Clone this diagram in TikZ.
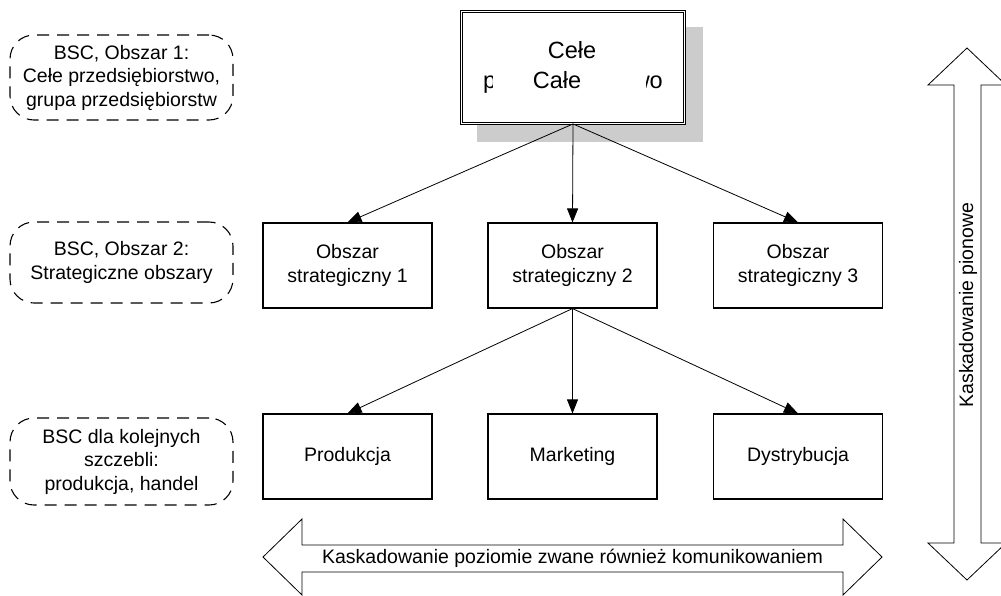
\documentclass[tikz,border=0pt]{standalone}
\usepackage{fontspec}
\setmainfont{Liberation Sans}
\usetikzlibrary{arrows.meta}
\begin{document}
\begin{tikzpicture}[x=1pt,y=-1pt,
  txt/.style={font=\fontsize{19.5}{23.5}\selectfont},
  bigtxt/.style={font=\fontsize{23.5}{28}\selectfont, inner sep=0pt},
  box/.style={txt, draw, line width=1.1pt, fill=white, minimum width=169pt, minimum height=85pt, align=center, inner sep=0pt},
  note/.style={txt, draw, line width=1.1pt, dash pattern=on 12pt off 8pt, rounded corners=24pt, minimum width=223pt, align=center, inner sep=0pt},
  conn/.style={-{Triangle[length=14pt,width=11pt]}, line width=0.8pt},
  bigarrow/.style={draw, line width=0.8pt, fill=white}
]
\useasboundingbox (0,0) rectangle (1001,595);
\clip (0,0) rectangle (1001,595);

% shadow and top box
\fill[black!20] (477,27) rectangle (703,142);
\node[draw, double, double distance=1.6pt, line width=0.9pt, fill=white,
      minimum width=223pt, minimum height=112pt, inner sep=0pt] (top) at (573,67.5) {};
\node[bigtxt, anchor=base] (t1) at (572,58) {Cełe};
\begin{scope}
  \clip (470,60) rectangle (492,105);
  \node[bigtxt, anchor=base west] (t2) at (483,88) {p};
\end{scope}
\begin{scope}
  \clip (646,60) rectangle (675,105);
  \node[bigtxt, anchor=base east] (t4) at (663,88) {wo};
\end{scope}
\node[bigtxt, anchor=base] (t3) at (557,88) {Całe};

% middle row
\node[box] (s1) at (347.5,265.5) {Obszar\\strategiczny 1};
\node[box] (s2) at (572.5,265.5) {Obszar\\strategiczny 2};
\node[box] (s3) at (798,265.5) {Obszar\\strategiczny 3};

% bottom row
\node[box] (p1) at (347.5,456.5) {Produkcja};
\node[box] (p2) at (572.5,456.5) {Marketing};
\node[box] (p3) at (798,456.5) {Dystrybucja};

% connectors
\draw[conn] (top.south) -- (s1.north);
\draw[conn] (top.south) -- (s2.north);
\draw[conn] (top.south) -- (s3.north);
\draw[conn] (s2.south) -- (p1.north);
\draw[conn] (s2.south) -- (p2.north);
\draw[conn] (s2.south) -- (p3.north);

% left dashed notes
\node[note, minimum height=85pt] (n1) at (121.5,77.5) {BSC, Obszar 1:\\Cełe przedsiębiorstwo,\\grupa przedsiębiorstw};
\node[note, minimum height=81pt] (n2) at (121.5,262.5) {BSC, Obszar 2:\\Strategiczne obszary};
\node[note, minimum height=87pt] (n3) at (121.5,461.5) {BSC dla kolejnych\\szczebli:\\produkcja, handel};

% horizontal double arrow
\draw[bigarrow] (263,557) -- (302,519) -- (302,545) -- (843,545) -- (843,519) -- (882,557)
  -- (843,595) -- (843,572) -- (302,572) -- (302,595) -- cycle;
\node[txt, inner sep=0pt] (h) at (572.5,558) {Kaskadowanie poziomie zwane również komunikowaniem};

% vertical double arrow
\draw[bigarrow] (967,48) -- (1006,85) -- (981,85) -- (981,543) -- (1006,543) -- (967,580)
  -- (928,543) -- (954,543) -- (954,85) -- (928,85) -- cycle;
\node[txt, rotate=90, inner sep=0pt] (v) at (968,305) {Kaskadowanie pionowe};
\end{tikzpicture}
\end{document}
